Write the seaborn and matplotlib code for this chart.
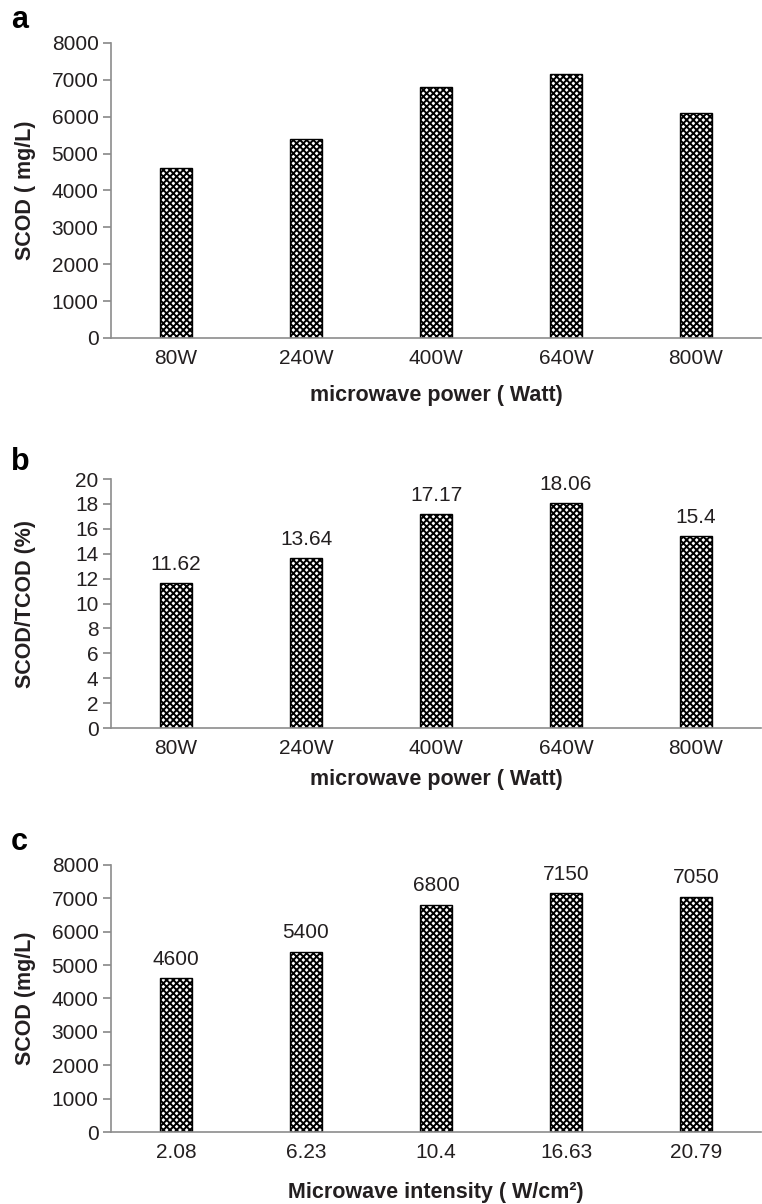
import pandas as pd
import matplotlib.pyplot as plt
import seaborn as sns

# --- Data ---
power_labels = ["80W", "240W", "400W", "640W", "800W"]
scod_power = [4600, 5400, 6800, 7150, 6100]
ratio_power = [11.62, 13.64, 17.17, 18.06, 15.4]
intensity_labels = ["2.08", "6.23", "10.4", "16.63", "20.79"]
scod_intensity = [4600, 5400, 6800, 7150, 7050]

# --- Style ---
sns.set_theme(style="ticks")
plt.rcParams["font.family"] = ["Liberation Sans", "DejaVu Sans"]
plt.rcParams["hatch.linewidth"] = 1.4
plt.rcParams["hatch.color"] = "black"

AXIS_GREY = "#8c8c8c"
TEXT = "#231f20"
FIG_H = 1204


def draw_panel(ax, cats, vals, ylim, step, ylabel, xlabel, xpad, annotate, fmt=None):
    df = pd.DataFrame({"cat": cats, "val": vals})
    sns.barplot(data=df, x="cat", y="val", order=cats, color="white",
                edgecolor="black", linewidth=1.0, width=0.25, ax=ax)
    for p in ax.patches:
        p.set_hatch("xxxxx")
    if annotate:
        ax.bar_label(ax.containers[0], labels=[fmt(v) for v in vals],
                     padding=7, fontsize=15, color=TEXT)
    ax.set_xlim(-0.5, len(cats) - 0.5)
    ax.set_ylim(*ylim)
    ax.set_yticks(range(ylim[0], ylim[1] + 1, step))
    sns.despine(ax=ax)
    for s in ["left", "bottom"]:
        ax.spines[s].set_color(AXIS_GREY)
        ax.spines[s].set_linewidth(1.2)
    ax.tick_params(axis="y", length=6, color=AXIS_GREY, labelsize=15, pad=3,
                   labelcolor=TEXT)
    ax.tick_params(axis="x", length=0, labelsize=15, pad=8, labelcolor=TEXT)
    ax.set_ylabel(ylabel, fontsize=15.5, fontweight="bold", color=TEXT)
    ax.yaxis.set_label_coords(-0.1154, 0.5)
    ax.set_xlabel(xlabel, fontsize=15.5, fontweight="bold", color=TEXT,
                  labelpad=xpad)


fig = plt.figure(figsize=(7.62, 12.04), dpi=100)
ax_a = fig.add_axes([0.1457, 0.7193, 0.853, 0.245])
ax_b = fig.add_axes([0.1457, 0.3953, 0.853, 0.2068])
ax_c = fig.add_axes([0.1457, 0.0598, 0.853, 0.2218])

draw_panel(ax_a, power_labels, scod_power, (0, 8000), 1000,
           "SCOD ( mg/L)", "microwave power ( Watt)", 12, False)
draw_panel(ax_b, power_labels, ratio_power, (0, 20), 2,
           "SCOD/TCOD (%)", "microwave power ( Watt)", 8, True,
           fmt=lambda v: f"{v:g}")
draw_panel(ax_c, intensity_labels, scod_intensity, (0, 8000), 1000,
           "SCOD (mg/L)", "Microwave intensity ( W/cm²)", 14.5, True,
           fmt=lambda v: f"{v:d}")

# panel letters
for letter, base_px in [("a", 28), ("b", 470), ("c", 850)]:
    fig.text(0.014, 1 - base_px / FIG_H, letter, fontsize=22, fontweight="bold",
             color="black", ha="left", va="baseline")

fig.savefig("out.png", dpi=100)
